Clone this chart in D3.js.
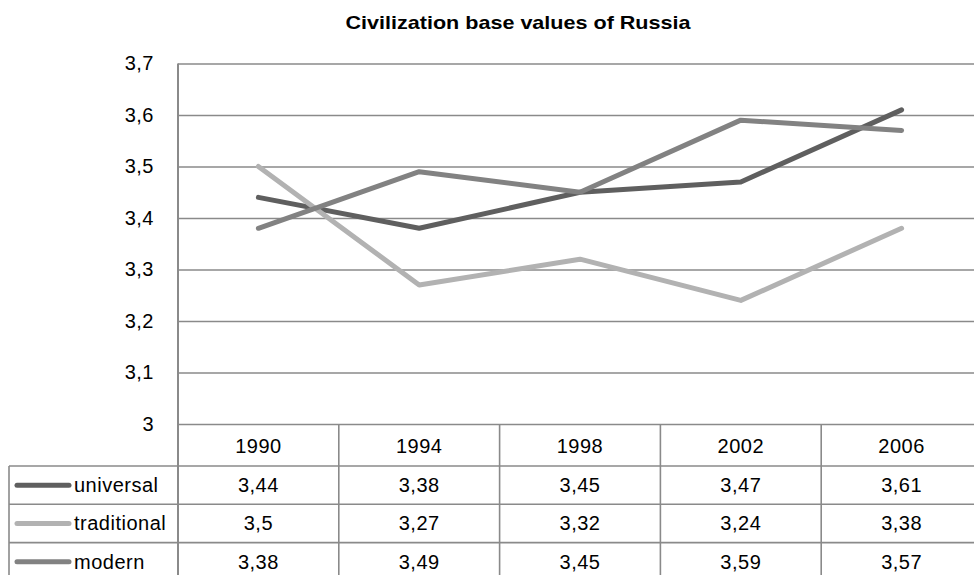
<!DOCTYPE html>
<html><head><meta charset="utf-8">
<script src="https://cdn.jsdelivr.net/npm/d3@7"></script>
<style>
html,body{margin:0;padding:0;background:#fff;overflow:hidden;}
svg{display:block;font-family:"Liberation Sans",Arial,Helvetica,sans-serif;}
</style></head>
<body>
<svg id="chart" width="974" height="575"></svg>
<script>
const title = "Civilization base values of Russia";
const years = ["1990","1994","1998","2002","2006"];
const seriesNames = ["universal","traditional","modern"];
const universal = [3.44,3.38,3.45,3.47,3.61];
const traditional = [3.5,3.27,3.32,3.24,3.38];
const modern = [3.38,3.49,3.45,3.59,3.57];
const yTicks = [3,3.1,3.2,3.3,3.4,3.5,3.6,3.7];
const colors = ["#5f5f5f","#b2b2b2","#828282"];

(function(){
const series = seriesNames.map((n,i)=>({name:n, values:[universal,traditional,modern][i], color:colors[i]}));

const loc = d3.formatLocale({decimal:",",thousands:".",grouping:[3],currency:["",""]});
const fmt = loc.format(".2~f");

const svg = d3.select("#chart");
const pLeft = 178, pRight = 982, pTop = 63.5, pBottom = 424;
const rowH = 38.3, headerBottom = 466, tableLeft = 9;
const gridColor = "#8a8a8a";
const fs = "20px";

const x = d3.scaleBand().domain(years).range([pLeft,pRight]).padding(0);
const y = d3.scaleLinear().domain([3,3.7]).range([pBottom,pTop]);

// title
svg.append("text").attr("x",518).attr("y",29).attr("text-anchor","middle")
  .attr("font-weight","bold").attr("font-size","18.5px")
  .attr("textLength",345).attr("lengthAdjust","spacingAndGlyphs")
  .attr("fill","#000").text(title);

// y labels via axis
const yAxis = d3.axisLeft(y).tickValues(yTicks).tickFormat(fmt).tickSize(0).tickPadding(24);
const gAx = svg.append("g").attr("transform",`translate(${pLeft},0)`).call(yAxis);
gAx.select(".domain").remove();
gAx.selectAll("text").attr("font-size",fs).attr("fill","#000").attr("letter-spacing","0.5px")
   .attr("font-family","'Liberation Sans',Arial,sans-serif");
// gridlines
const gGrid = svg.append("g").attr("transform",`translate(${pLeft},0)`)
  .call(d3.axisLeft(y).tickValues(yTicks).tickSize(-(pRight-pLeft)).tickFormat(""));
gGrid.select(".domain").remove();
gGrid.selectAll("line").attr("stroke",gridColor).attr("stroke-width",1.6);

// table lines
const tbl = svg.append("g").attr("stroke",gridColor).attr("stroke-width",1.6).attr("fill","none");
const colEdges = years.map(yv=>x(yv)).concat([pRight]);
colEdges.forEach(cx=>{
  tbl.append("line").attr("x1",cx).attr("x2",cx).attr("y2",580)
    .attr("stroke-width", cx===pLeft?2:1.6)
    .attr("y1", cx===pLeft?pTop:pBottom);
});
tbl.append("line").attr("x1",tableLeft).attr("x2",tableLeft).attr("y1",headerBottom).attr("y2",580);
series.forEach((s,i)=>{
  const yy = headerBottom + i*rowH;
  tbl.append("line").attr("x1",tableLeft).attr("x2",pRight).attr("y1",yy).attr("y2",yy);
});

// header labels
svg.append("g").selectAll("text").data(years).join("text")
  .attr("x",d=>x(d)+x.bandwidth()/2).attr("y",(pBottom+headerBottom)/2+1)
  .attr("dy","0.35em").attr("text-anchor","middle").attr("font-size",fs).attr("letter-spacing","0.5px").attr("fill","#000")
  .text(d=>d);

// table rows
series.forEach((s,i)=>{
  const cy = headerBottom + i*rowH + rowH/2;
  const g = svg.append("g");
  g.append("line").attr("x1",17).attr("x2",69).attr("y1",cy).attr("y2",cy)
    .attr("stroke",s.color).attr("stroke-width",5).attr("stroke-linecap","round");
  g.append("text").attr("x",74).attr("y",cy).attr("dy","0.35em").attr("font-size",fs).attr("letter-spacing","0.5px")
    .attr("fill","#000").text(s.name);
  g.selectAll("text.v").data(s.values).join("text").attr("class","v")
    .attr("x",(d,j)=>x(years[j])+x.bandwidth()/2).attr("y",cy).attr("dy","0.35em")
    .attr("text-anchor","middle").attr("font-size",fs).attr("letter-spacing","0.5px").attr("fill","#000")
    .text(d=>fmt(d));
});

// lines
const line = d3.line().x((d,j)=>x(years[j])+x.bandwidth()/2).y(d=>y(d));
svg.append("g").selectAll("path").data(series).join("path")
  .attr("d",d=>line(d.values)).attr("fill","none").attr("stroke",d=>d.color)
  .attr("stroke-width",5).attr("stroke-linecap","round").attr("stroke-linejoin","round");
})();
</script>
</body></html>
